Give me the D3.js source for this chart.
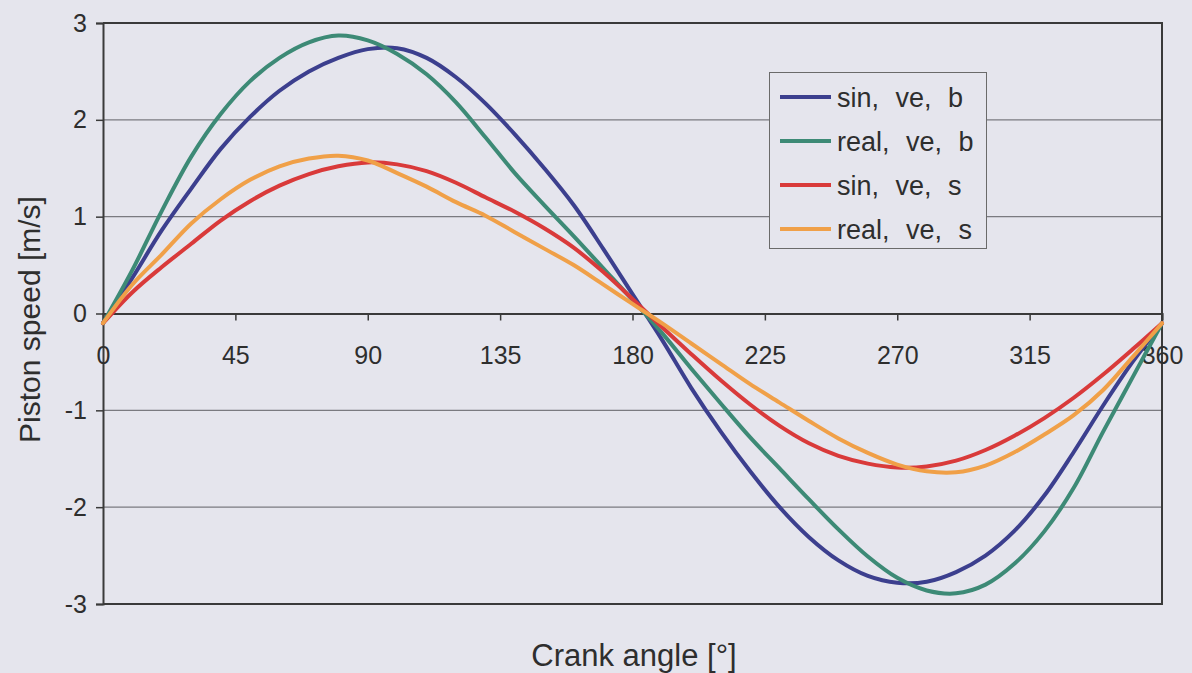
<!DOCTYPE html>
<html>
<head>
<meta charset="utf-8">
<script src="https://cdn.jsdelivr.net/npm/d3@7"></script>
<style>
  html, body { margin: 0; padding: 0; background: #e5e5ed; }
  svg { display: block; }
  text { font-family: "Liberation Sans", Arial, sans-serif; fill: #2e2e2e; }
</style>
</head>
<body>
<svg id="chart" width="1192" height="673"></svg>
<script>
// ---- data ----
const angles = [0,10,20,30,40,50,60,70,80,90,100,110,120,130,140,150,160,170,180,190,200,210,220,230,240,250,260,270,280,290,300,310,320,330,340,350,360];

const sinVeB  = [-0.10,0.37,0.86,1.29,1.70,2.03,2.30,2.50,2.64,2.73,2.74,2.64,2.44,2.17,1.85,1.50,1.12,0.67,0.20,-0.27,-0.77,-1.22,-1.63,-2.00,-2.31,-2.55,-2.71,-2.78,-2.77,-2.67,-2.50,-2.24,-1.88,-1.43,-0.95,-0.50,-0.10];
const realVeB = [-0.10,0.45,1.06,1.62,2.06,2.40,2.64,2.80,2.87,2.82,2.68,2.47,2.18,1.82,1.45,1.12,0.80,0.47,0.14,-0.20,-0.57,-0.93,-1.28,-1.60,-1.92,-2.23,-2.51,-2.73,-2.86,-2.89,-2.80,-2.58,-2.25,-1.80,-1.22,-0.66,-0.10];
const sinVeS  = [-0.10,0.22,0.48,0.72,0.96,1.16,1.32,1.44,1.52,1.56,1.54,1.47,1.35,1.20,1.05,0.88,0.68,0.43,0.15,-0.14,-0.42,-0.69,-0.94,-1.16,-1.34,-1.47,-1.55,-1.59,-1.58,-1.52,-1.41,-1.26,-1.08,-0.87,-0.63,-0.37,-0.10];
const realVeS = [-0.10,0.30,0.61,0.93,1.18,1.38,1.52,1.60,1.63,1.58,1.45,1.31,1.15,1.01,0.84,0.67,0.50,0.30,0.10,-0.10,-0.31,-0.52,-0.73,-0.92,-1.11,-1.29,-1.44,-1.56,-1.63,-1.64,-1.57,-1.43,-1.25,-1.05,-0.79,-0.45,-0.10];

const seriesNames  = ["sin, ve, b", "real, ve, b", "sin, ve, s", "real, ve, s"];
const seriesColors = ["#3c3f8e", "#3d8a76", "#d93a3a", "#f0a048"];
const xTicks = [0,45,90,135,180,225,270,315,360];
const yTicks = [-3,-2,-1,0,1,2,3];
const xTitle = "Crank angle [°]";
const yTitle = "Piston speed [m/s]";

const allSeries = [sinVeB, realVeB, sinVeS, realVeS];

// ---- layout ----
const svg = d3.select("#chart");
const L = 103, R = 1162, T = 23, B = 604;
const x = d3.scaleLinear().domain([0, 360]).range([L, R]);
const y = d3.scaleLinear().domain([-3, 3]).range([B, T]);
const FONT = "Liberation Sans, Arial, sans-serif";

// gridlines
svg.append("g").selectAll("line")
  .data(yTicks.filter(v => v !== 0 && Math.abs(v) !== 3))
  .join("line")
  .attr("x1", L).attr("x2", R)
  .attr("y1", d => y(d)).attr("y2", d => y(d))
  .attr("stroke", "#7a7a80").attr("stroke-width", 1.2);

// frame (top, right, bottom)
svg.append("path")
  .attr("d", `M${L},${y(3)}H${R}V${y(-3)}H${L}`)
  .attr("fill", "none").attr("stroke", "#3a3a3a").attr("stroke-width", 2);

// y axis
const yAxis = d3.axisLeft(y).tickValues(yTicks).tickSize(7).tickPadding(9).tickFormat(d => String(d));
const gy = svg.append("g").attr("transform", `translate(${L},0)`).call(yAxis);
gy.select(".domain").attr("stroke", "#3a3a3a").attr("stroke-width", 2);
gy.selectAll(".tick line").attr("stroke", "#3a3a3a").attr("stroke-width", 1.5);
gy.selectAll(".tick text").attr("font-size", 25).attr("fill", "#2e2e2e").attr("font-family", FONT);

// x axis at y = 0
const xAxis = d3.axisBottom(x).tickValues(xTicks).tickSize(7).tickPadding(26).tickFormat(d => String(d));
const gx = svg.append("g").attr("transform", `translate(0,${y(0)})`).call(xAxis);
gx.select(".domain").attr("stroke", "#3a3a3a").attr("stroke-width", 2);
gx.selectAll(".tick line").attr("stroke", "#3a3a3a").attr("stroke-width", 1.5);
gx.selectAll(".tick text").attr("font-size", 25).attr("fill", "#2e2e2e").attr("font-family", FONT);

// lines
const line = d3.line()
  .x((d, i) => x(angles[i]))
  .y(d => y(d))
  .curve(d3.curveCatmullRom.alpha(0.5));

svg.append("g").selectAll("path")
  .data(allSeries)
  .join("path")
  .attr("d", d => line(d))
  .attr("fill", "none")
  .attr("stroke", (d, i) => seriesColors[i])
  .attr("stroke-width", 4)
  .attr("stroke-linejoin", "round")
  .attr("stroke-linecap", "round");

// axis titles
svg.append("text")
  .attr("x", 634).attr("y", 666)
  .attr("text-anchor", "middle").attr("font-size", 31)
  .text(xTitle);

svg.append("text")
  .attr("transform", `translate(40,${y(0) + 6}) rotate(-90)`)
  .attr("text-anchor", "middle").attr("font-size", 30)
  .text(yTitle);

// legend
const lg = svg.append("g");
lg.append("rect")
  .attr("x", 769.5).attr("y", 72.5).attr("width", 217).attr("height", 176)
  .attr("fill", "#e5e5ed").attr("stroke", "#6a6a6a").attr("stroke-width", 1);
const rows = lg.selectAll("g.row").data(seriesNames).join("g")
  .attr("class", "row")
  .attr("transform", (d, i) => `translate(0,${97 + i * 44})`);
rows.append("line")
  .attr("x1", 780).attr("x2", 831).attr("y1", 0).attr("y2", 0)
  .attr("stroke", (d, i) => seriesColors[i]).attr("stroke-width", 4);
rows.append("text")
  .attr("x", 837).attr("y", 0).attr("dy", "0.36em")
  .attr("font-size", 27).attr("word-spacing", 9)
  .text(d => d);
</script>
</body>
</html>
